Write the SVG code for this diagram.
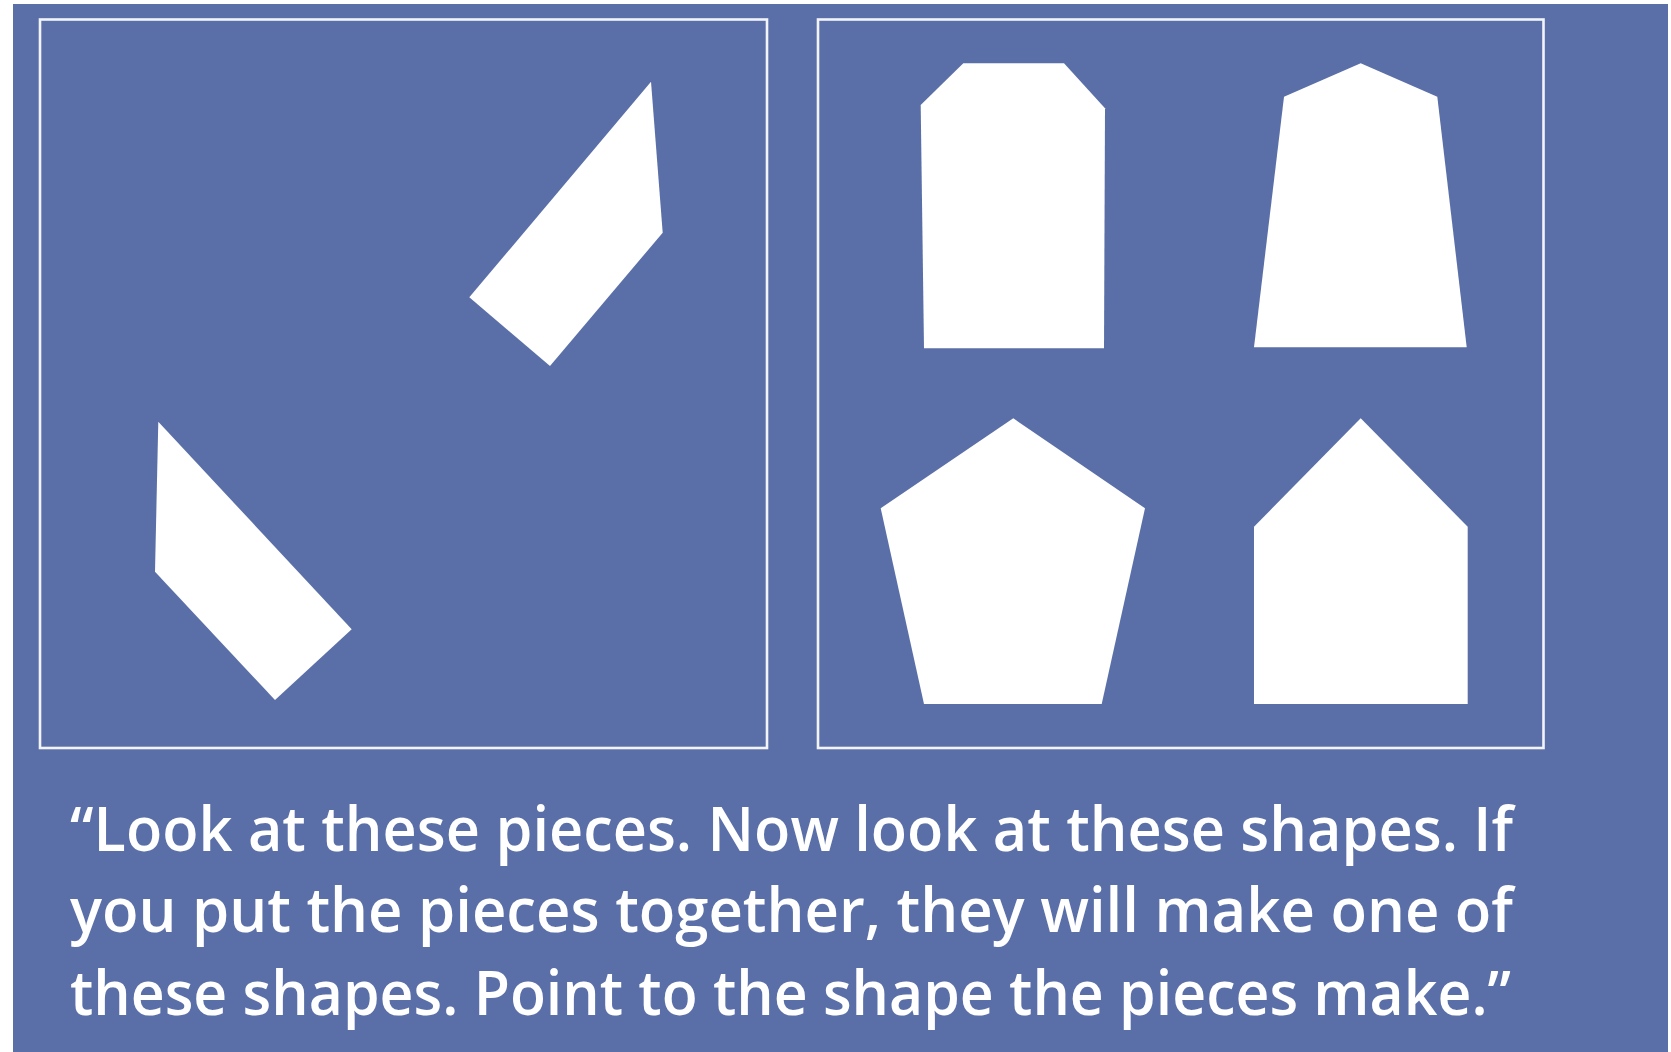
<svg xmlns="http://www.w3.org/2000/svg" width="1671" height="1052" viewBox="0 0 1671 1052">
  <style>
    .frame { fill: none; stroke: #f2f4fa; stroke-width: 2.6; }
    .piece { fill: #ffffff; }
    .caption { font-family: "Open Sans", "Noto Sans", "Liberation Sans", sans-serif; font-size: 62px; font-weight: 600; fill: #ffffff; }
  </style>
  <rect x="0" y="0" width="1671" height="1052" fill="#ffffff"/>
  <rect x="13" y="4" width="1655" height="1048" fill="#5a6fa8"/>

  <g id="pieces-panel">
    <rect class="frame" x="40" y="19.5" width="727" height="728.5"/>
    <g id="piece-upper">
      <polygon class="piece" points="651,81.7 662.7,232.7 550,366 469.3,297.3"/>
    </g>
    <g id="piece-lower">
      <polygon class="piece" points="158.3,421.7 155,571.7 275,700 351.7,629.3"/>
    </g>
  </g>

  <g id="shapes-panel">
    <rect class="frame" x="818" y="19.5" width="725.5" height="728.5"/>
    <g id="shape-tag">
      <polygon class="piece" points="963.3,63.3 1064,63.3 1105,108.3 1104,348.3 924,348.3 920.7,105"/>
    </g>
    <g id="shape-trapezoid">
      <polygon class="piece" points="1360.7,63.3 1437.3,96.7 1466.7,347.3 1254,347.3 1284,96.7"/>
    </g>
    <g id="shape-pentagon">
      <polygon class="piece" points="1013.3,418.3 1145,508.3 1101.7,704 924,704 880.7,508.3"/>
    </g>
    <g id="shape-house">
      <polygon class="piece" points="1360.7,418.3 1467.7,526.7 1467.7,704 1254,704 1254,526.7"/>
    </g>
  </g>

  <g id="caption">
    <text class="caption" x="70" y="851" textLength="1443" lengthAdjust="spacingAndGlyphs">“Look at these pieces. Now look at these shapes. If</text>
    <text class="caption" x="70" y="932" textLength="1443" lengthAdjust="spacingAndGlyphs">you put the pieces together, they will make one of</text>
    <text class="caption" x="70" y="1015" textLength="1441" lengthAdjust="spacingAndGlyphs">these shapes. Point to the shape the pieces make.”</text>
  </g>
</svg>
